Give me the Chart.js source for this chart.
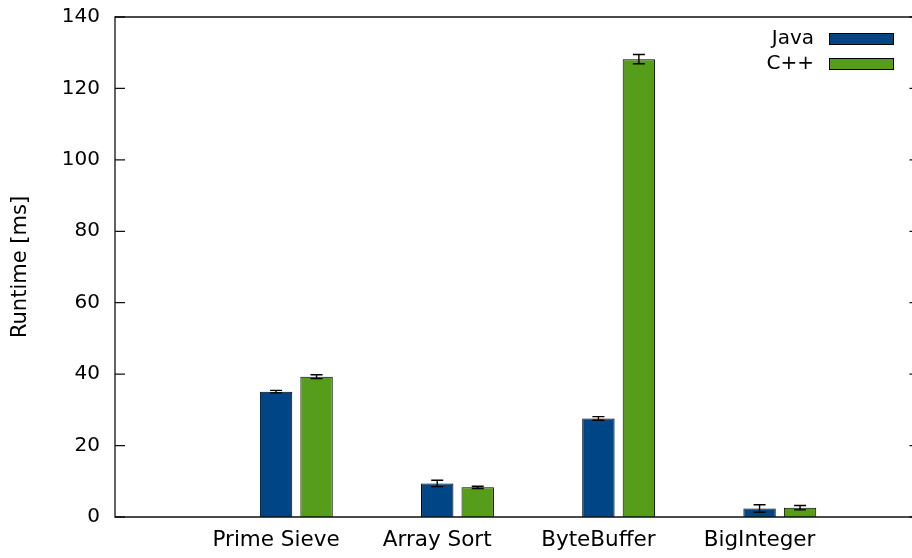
<!DOCTYPE html>
<html>
<head>
<meta charset="utf-8">
<script src="https://cdn.jsdelivr.net/npm/chart.js@4/dist/chart.umd.min.js"></script>
<style>
  html, body { margin: 0; padding: 0; background: #fff; }
  #wrap { width: 912px; height: 558px; position: relative; }
</style>
</head>
<body>
<div id="wrap"><canvas id="c" width="912" height="558"></canvas></div>
<script>
// Benchmark categories and measured runtimes (mean and error) in ms
const categories = ['Prime Sieve', 'Array Sort', 'ByteBuffer', 'BigInteger'];
const javaMeans = [35.1, 9.4, 27.6, 2.4];
const javaErrors = [0.35, 0.9, 0.5, 1.05];
const cppMeans = [39.3, 8.3, 128.2, 2.6];
const cppErrors = [0.55, 0.3, 1.3, 0.6];
const yTickValues = [0, 20, 40, 60, 80, 100, 120, 140];
const seriesNames = ['Java', 'C++'];
const seriesColors = ['#004586', '#579d1c'];

const FONT = "'DejaVu Sans', 'Liberation Sans', sans-serif";
const TICK_SIZE = 20;
const LABEL_SIZE = 21.5;
const TITLE_SIZE = 21;
// category labels sit under the first bar of each group
const LABEL_SHIFT = -0.1256;

function toPoints(values) {
  return values.map((v, i) => ({ x: i, y: v }));
}

// Error bars: vertical whisker with caps on each bar
const errorBarPlugin = {
  id: 'errorBars',
  afterDatasetsDraw(chart) {
    const ctx = chart.ctx;
    const yScale = chart.scales.y;
    ctx.save();
    ctx.strokeStyle = '#000';
    ctx.lineWidth = 1.4;
    chart.data.datasets.forEach((ds, di) => {
      const meta = chart.getDatasetMeta(di);
      meta.data.forEach((bar, i) => {
        const v = ds.data[i].y;
        const e = ds.errors[i];
        const yHi = yScale.getPixelForValue(v + e);
        const yLo = yScale.getPixelForValue(v - e);
        const x = bar.x;
        const cap = 6;
        ctx.beginPath();
        ctx.moveTo(x, yHi); ctx.lineTo(x, yLo);
        ctx.moveTo(x - cap, yHi); ctx.lineTo(x + cap, yHi);
        ctx.moveTo(x - cap, yLo); ctx.lineTo(x + cap, yLo);
        ctx.stroke();
      });
    });
    ctx.restore();
  }
};

// Plot frame, inward y ticks, axis title and key
const framePlugin = {
  id: 'frame',
  afterDraw(chart) {
    const ctx = chart.ctx;
    const a = chart.chartArea;
    const yScale = chart.scales.y;
    ctx.save();
    ctx.strokeStyle = '#111';
    ctx.lineWidth = 1.3;
    ctx.beginPath();
    ctx.moveTo(chart.width, a.top);
    ctx.lineTo(a.left, a.top);
    ctx.lineTo(a.left, a.bottom);
    ctx.lineTo(chart.width, a.bottom);
    ctx.stroke();
    ctx.beginPath();
    yTickValues.forEach(v => {
      const y = yScale.getPixelForValue(v);
      ctx.moveTo(a.left, y); ctx.lineTo(a.left + 10, y);
      ctx.moveTo(a.right - 1.5, y); ctx.lineTo(chart.width, y);
    });
    ctx.stroke();

    // y axis title
    ctx.fillStyle = '#000';
    ctx.font = TITLE_SIZE + 'px ' + FONT;
    ctx.textAlign = 'center';
    ctx.textBaseline = 'middle';
    ctx.save();
    ctx.translate(21, (a.top + a.bottom) / 2);
    ctx.rotate(-Math.PI / 2);
    ctx.fillText('Runtime [ms]', 0, 0);
    ctx.restore();

    // key
    ctx.font = TICK_SIZE + 'px ' + FONT;
    const keyTextRight = 814;
    const swLeft = 829, swWidth = 65, swHeight = 12;
    const rowCenters = [39, 64];
    seriesNames.forEach((name, i) => {
      const cy = rowCenters[i];
      ctx.fillStyle = '#000';
      ctx.textAlign = 'right';
      ctx.textBaseline = 'middle';
      ctx.fillText(name, keyTextRight, cy);
      ctx.fillStyle = seriesColors[i];
      ctx.fillRect(swLeft, cy - swHeight / 2, swWidth, swHeight);
      ctx.strokeStyle = '#000';
      ctx.lineWidth = 1;
      ctx.strokeRect(swLeft + 0.5, cy - swHeight / 2 + 0.5, swWidth - 1, swHeight - 1);
    });
    ctx.restore();
  }
};

new Chart(document.getElementById('c'), {
  type: 'bar',
  data: {
    datasets: [
      {
        label: seriesNames[0],
        data: toPoints(javaMeans),
        errors: javaErrors,
        backgroundColor: seriesColors[0],
        borderColor: '#000',
        borderWidth: 1,
        categoryPercentage: 0.5026,
        barPercentage: 0.80
      },
      {
        label: seriesNames[1],
        data: toPoints(cppMeans),
        errors: cppErrors,
        backgroundColor: seriesColors[1],
        borderColor: '#000',
        borderWidth: 1,
        categoryPercentage: 0.5026,
        barPercentage: 0.80
      }
    ]
  },
  options: {
    responsive: false,
    animation: false,
    devicePixelRatio: 1,
    layout: { padding: { top: 17, right: 1, left: 0, bottom: 0 } },
    plugins: {
      legend: { display: false },
      tooltip: { enabled: false },
      title: { display: false }
    },
    scales: {
      x: {
        type: 'linear',
        offset: false,
        min: -1.125,
        max: 3.814,
        grid: { display: false, drawTicks: false, offset: false },
        border: { display: false },
        afterBuildTicks: s => { s.ticks = categories.map((c, i) => ({ value: i + LABEL_SHIFT, label: c })); },
        afterFit: s => { s.height = 41; s.paddingLeft = 0; s.paddingRight = 0; },
        ticks: {
          color: '#000',
          padding: 11,
          maxRotation: 0,
          autoSkip: false,
          font: { family: FONT, size: LABEL_SIZE },
          callback: (v, i) => categories[i]
        }
      },
      y: {
        min: 0,
        max: 140,
        grid: { display: false, drawTicks: false },
        border: { display: false },
        afterBuildTicks: s => { s.ticks = yTickValues.map(v => ({ value: v })); },
        afterFit: s => { s.width = 115; s.paddingTop = 0; s.paddingBottom = 0; },
        ticks: {
          color: '#000',
          padding: 15,
          font: { family: FONT, size: TICK_SIZE }
        }
      }
    }
  },
  plugins: [errorBarPlugin, framePlugin]
});
</script>
</body>
</html>
